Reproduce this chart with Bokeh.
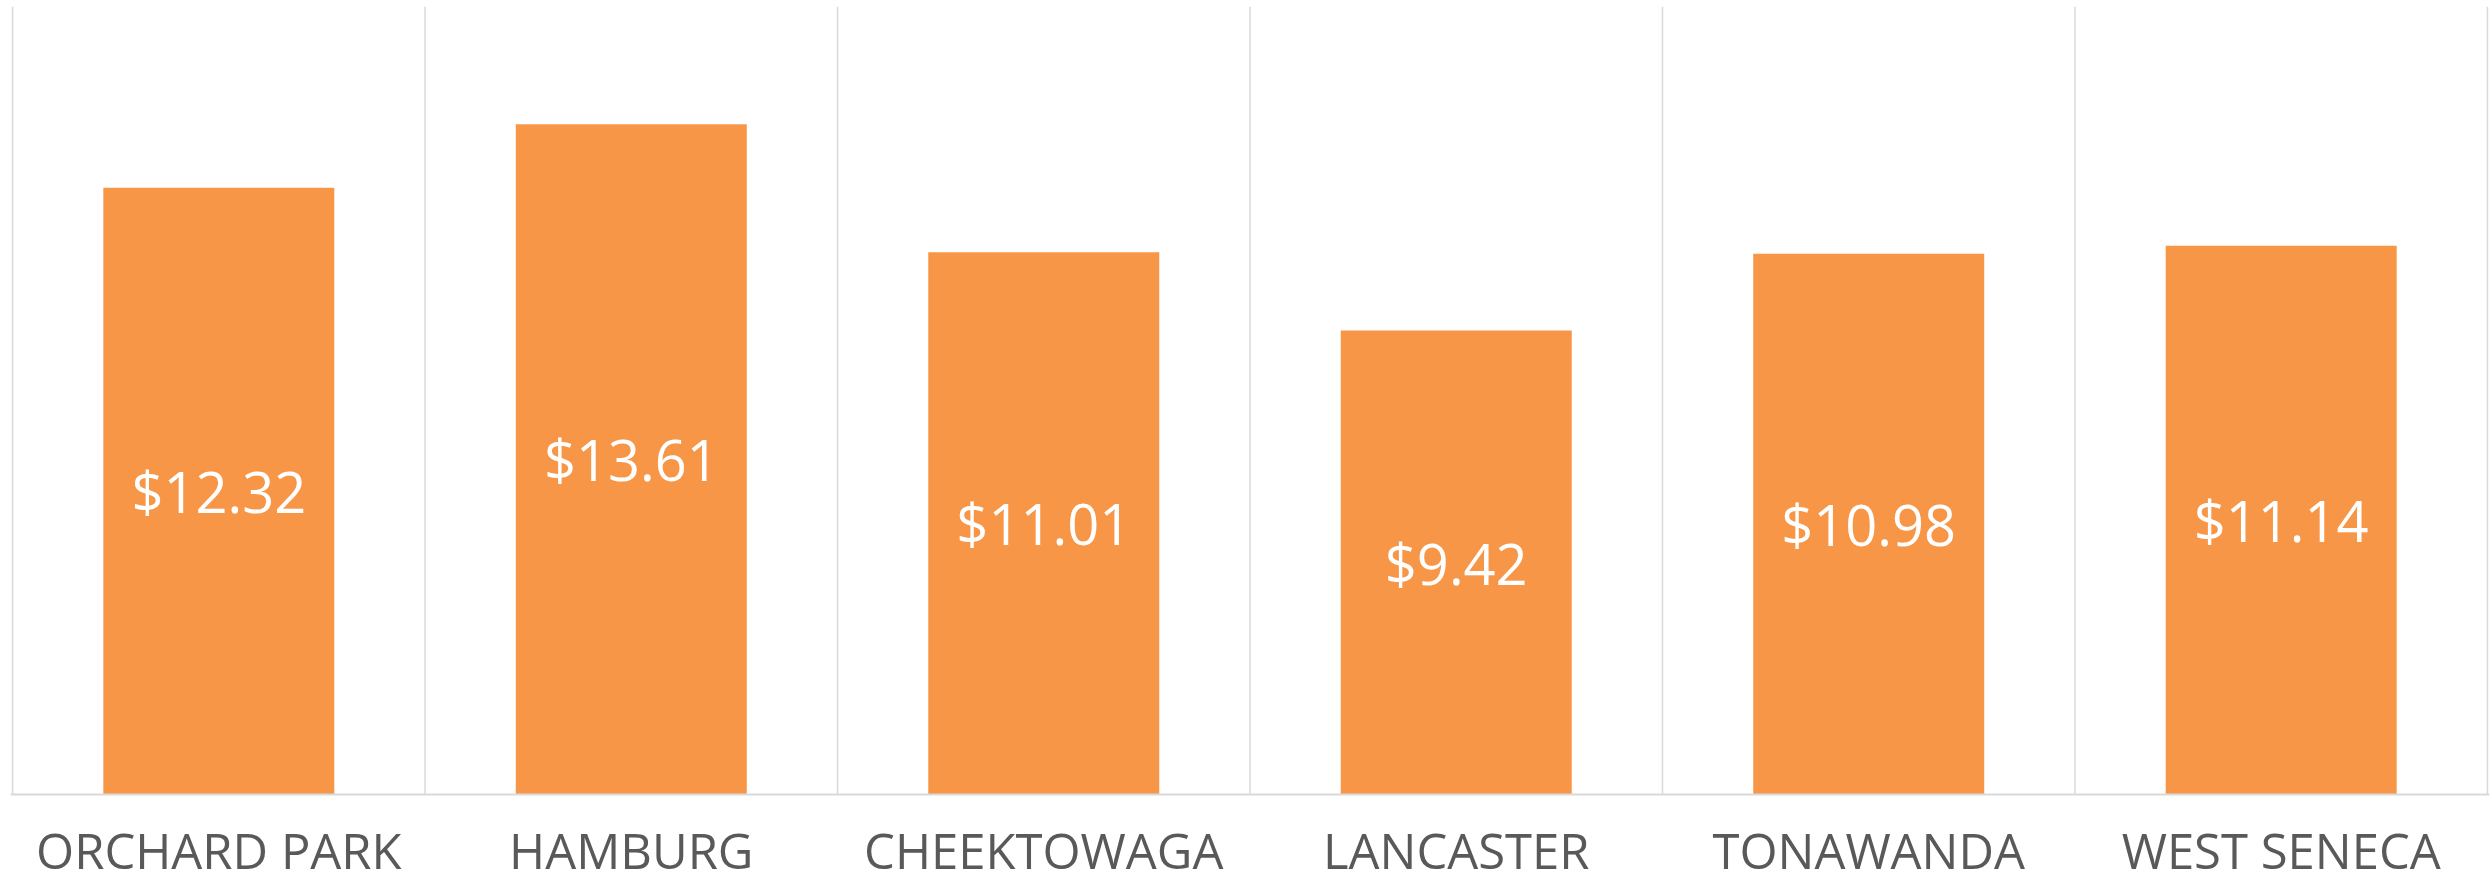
from bokeh.plotting import figure
from bokeh.models import ColumnDataSource, Range1d, Span
from bokeh.core.properties import value
from bokeh.embed import file_html
from bokeh.resources import INLINE

towns = ["ORCHARD PARK", "HAMBURG", "CHEEKTOWAGA", "LANCASTER", "TONAWANDA", "WEST SENECA"]
wages = [12.32, 13.61, 11.01, 9.42, 10.98, 11.14]
wage_labels = ["$12.32", "$13.61", "$11.01", "$9.42", "$10.98", "$11.14"]

n = len(towns)
xs = [i + 0.5 for i in range(n)]
src = ColumnDataSource(dict(x=xs, top=wages, mid=[w / 2 for w in wages], lab=wage_labels,
                            base=[0] * n, town=towns))
bounds = list(range(n + 1))
Y_MAX = 16
sep = ColumnDataSource(dict(x=bounds, y0=[0] * len(bounds), y1=[Y_MAX] * len(bounds)))

p = figure(width=2491, height=887, output_backend="svg", toolbar_location=None,
           x_range=Range1d(-0.005, n + 0.005), y_range=Range1d(-93 / 49.25, Y_MAX),
           min_border_left=10, min_border_right=2, min_border_top=6, min_border_bottom=0)
p.outline_line_color = None
p.background_fill_color = "white"
p.border_fill_color = "white"
p.axis.visible = False
p.grid.grid_line_color = None

# category separators (vertical gridlines)
p.segment(x0="x", y0="y0", x1="x", y1="y1", source=sep, line_color="#d9d9d9", line_width=1.5)

p.vbar(x="x", top="top", width=0.56, bottom=0, source=src,
       fill_color="#F79646", line_color=None)

# baseline axis line
p.add_layout(Span(location=0, dimension="width", line_color="#d9d9d9", line_width=2))

p.text(x="x", y="mid", text="lab", source=src,
       text_color="white", text_font_size="56px", text_font=value("Open Sans"),
       text_align="center", text_baseline="middle")

p.text(x="x", y="base", text="town", source=src, y_offset=55,
       text_color="#595959", text_font_size="49px", text_font=value("Open Sans"),
       text_align="center", text_baseline="alphabetic")

open("out.html", "w").write(file_html(p, INLINE))
